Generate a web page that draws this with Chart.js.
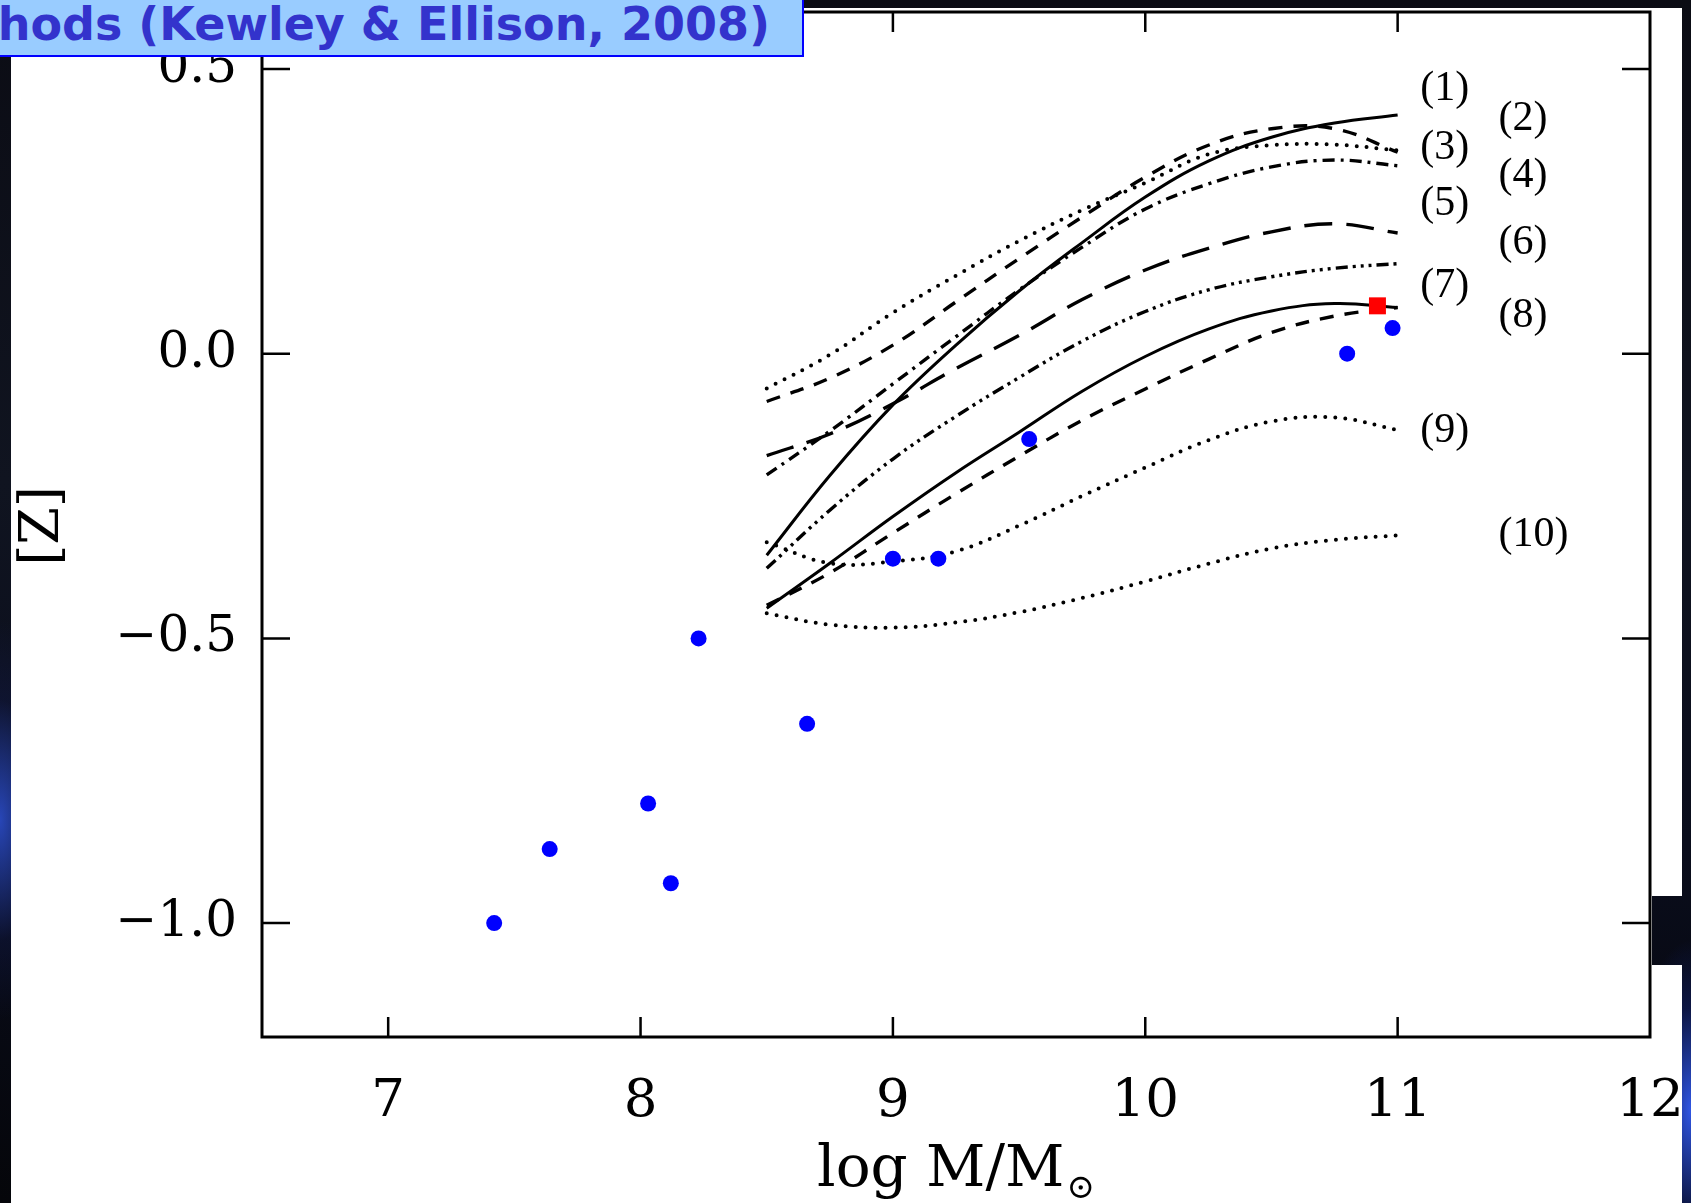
<!DOCTYPE html>
<html>
<head>
<meta charset="utf-8">
<script src="https://cdn.jsdelivr.net/npm/chart.js@4.4.1/dist/chart.umd.min.js"></script>
<style>
  html, body { margin: 0; padding: 0; }
  body {
    width: 1691px; height: 1203px; overflow: hidden; position: relative;
    background: #05060c;
  }
  .space {
    position: absolute;
    background:
      radial-gradient(ellipse 70px 200px at 0px 820px, rgba(45,80,210,0.85), rgba(20,30,90,0.3) 60%, transparent 100%),
      radial-gradient(ellipse 60px 170px at 1691px 1110px, rgba(50,90,240,0.95), rgba(20,40,140,0.4) 60%, transparent 100%),
      linear-gradient(180deg, #0b0c14 0%, #101420 40%, #0a0d1c 70%, #05060a 100%);
    background-size: 1691px 1203px;
  }
  #sheet { position: absolute; left: 11px; top: 8px; width: 1671px; height: 1195px; background: #fff; }
  #plot { position: absolute; left: 0; top: 0; }
  #edgeL { left: 0; top: 0; width: 11px; height: 1203px; background-position: 0 0; }
  #edgeR { left: 1682px; top: 0; width: 9px; height: 1203px; background-position: -1682px 0; }
  #edgeT { left: 0; top: 0; width: 1691px; height: 8px; background-position: 0 0; }
  #notch { left: 1652px; top: 896px; width: 30px; height: 69px; background-position: -1652px -896px; }
  #banner {
    position: absolute; left: 0; top: 0; width: 802px; height: 55px;
    background: #99ccff; border-right: 2px solid #0000ff; border-bottom: 2px solid #0000ff;
    overflow: hidden;
  }
  #banner span {
    position: absolute; right: 32px; top: -3px; white-space: nowrap;
    font: bold 46px "DejaVu Sans", sans-serif; color: #3333cc;
  }
</style>
</head>
<body>
<div id="sheet"></div>
<canvas id="plot" width="1691" height="1203"></canvas>
<div id="edgeL" class="space"></div>
<div id="edgeR" class="space"></div>
<div id="edgeT" class="space"></div>
<div id="notch" class="space"></div>
<div id="banner"><span>Methods (Kewley &amp; Ellison, 2008)</span></div>
<script>
(function () {
  'use strict';

  // stellar mass grid shared by the ten calibration curves
  const xGrid = [8.5, 8.75, 9.0, 9.25, 9.5, 9.75, 10.0, 10.25, 10.5, 10.75, 11.0];

  const curve1  = [-0.354, -0.214, -0.090, 0.015, 0.110, 0.195, 0.275, 0.338, 0.380, 0.405, 0.419];
  const curve2  = [-0.084, -0.043, 0.015, 0.091, 0.167, 0.240, 0.310, 0.366, 0.395, 0.395, 0.354];
  const curve3  = [-0.061, -0.002, 0.072, 0.137, 0.198, 0.252, 0.300, 0.350, 0.366, 0.367, 0.357];
  const curve4  = [-0.213, -0.136, -0.053, 0.030, 0.112, 0.187, 0.254, 0.298, 0.328, 0.340, 0.330];
  const curve5  = [-0.179, -0.141, -0.088, -0.026, 0.032, 0.095, 0.147, 0.185, 0.214, 0.228, 0.212];
  const curve6  = [-0.377, -0.275, -0.185, -0.110, -0.042, 0.022, 0.074, 0.112, 0.135, 0.150, 0.158];
  const curve7  = [-0.447, -0.368, -0.286, -0.209, -0.138, -0.066, -0.005, 0.043, 0.075, 0.088, 0.081];
  const curve8  = [-0.442, -0.385, -0.315, -0.246, -0.180, -0.117, -0.062, -0.010, 0.037, 0.066, 0.081];
  const curve9  = [-0.331, -0.368, -0.365, -0.347, -0.302, -0.250, -0.200, -0.152, -0.119, -0.112, -0.134];
  const curve10 = [-0.456, -0.476, -0.481, -0.472, -0.454, -0.429, -0.400, -0.369, -0.342, -0.327, -0.319];

  // blue points
  const obsMass = [7.42, 7.64, 8.03, 8.12, 8.23, 8.66, 9.00, 9.18, 9.54, 10.80, 10.98];
  const obsZ    = [-1.00, -0.87, -0.79, -0.93, -0.50, -0.65, -0.36, -0.36, -0.15, 0.00, 0.045];
  // red square
  const refMass = [10.92];
  const refZ    = [0.084];

  const curveLabels = ['(1)', '(2)', '(3)', '(4)', '(5)', '(6)', '(7)', '(8)', '(9)', '(10)'];
  const labelX = [11.09, 11.40, 11.09, 11.40, 11.09, 11.40, 11.09, 11.40, 11.09, 11.40];
  const labelY = [0.465, 0.412, 0.361, 0.312, 0.263, 0.195, 0.119, 0.067, -0.135, -0.319];

  const xTicks = [7, 8, 9, 10, 11, 12];
  const yTicks = [-1.0, -0.5, 0.0, 0.5];

  const SERIF = '"DejaVu Serif", serif';

  const pts = ys => xGrid.map((x, i) => ({ x: x, y: ys[i] }));
  const DOT = [0, 10];
  const lineSet = (data, dash, cap, w) => ({
    type: 'line', data: pts(data), borderColor: '#000', borderWidth: w || 3,
    borderDash: dash, borderCapStyle: cap || 'butt', pointRadius: 0,
    tension: 0.4, fill: false, order: 2,
  });

  const curves = [
    lineSet(curve1, []),
    lineSet(curve2, [14, 11], 'butt', 3.4),
    lineSet(curve3, DOT, 'round', 4),
    lineSet(curve4, [12, 6, 3, 6], 'butt', 3.4),
    lineSet(curve5, [28, 14], 'butt', 3.4),
    lineSet(curve6, [12, 5, 3, 5, 3, 5, 3, 5], 'butt', 3.4),
    lineSet(curve7, []),
    lineSet(curve8, [14, 11], 'butt', 3.4),
    lineSet(curve9, DOT, 'round', 4),
    lineSet(curve10, DOT, 'round', 4),
  ];

  // keep the plot box fixed: no extra room reserved for edge labels
  const noPad = s => { s.paddingTop = 0; s.paddingBottom = 0; s.paddingLeft = 0; s.paddingRight = 0; };

  const frame = {
    id: 'frame',
    afterDraw(chart) {
      const { ctx, chartArea: a, scales: { x, y } } = chart;
      ctx.save();
      ctx.strokeStyle = '#000';
      ctx.lineWidth = 3;
      ctx.strokeRect(a.left, a.top, a.right - a.left, a.bottom - a.top);
      ctx.lineWidth = 2.5;
      ctx.beginPath();
      yTicks.forEach(v => {
        const py = y.getPixelForValue(v);
        ctx.moveTo(a.left, py); ctx.lineTo(a.left + 28, py);
        ctx.moveTo(a.right, py); ctx.lineTo(a.right - 28, py);
      });
      xTicks.forEach(v => {
        const px = x.getPixelForValue(v);
        if (px >= a.right - 1) return;
        ctx.moveTo(px, a.bottom); ctx.lineTo(px, a.bottom - 20);
        ctx.moveTo(px, a.top); ctx.lineTo(px, a.top + 20);
      });
      ctx.stroke();

      // curve labels
      ctx.fillStyle = '#000';
      ctx.font = '42px "Liberation Serif", serif';
      ctx.textAlign = 'left';
      ctx.textBaseline = 'middle';
      curveLabels.forEach((t, i) => {
        ctx.fillText(t, x.getPixelForValue(labelX[i]), y.getPixelForValue(labelY[i]));
      });

      // x axis title with subscript sun symbol
      ctx.font = '58px ' + SERIF;
      ctx.textBaseline = 'alphabetic';
      const main = 'log M/M';
      const wMain = ctx.measureText(main).width;
      ctx.font = '34px ' + SERIF;
      const sub = '\u2299';
      const wSub = ctx.measureText(sub).width;
      const cx = (a.left + a.right) / 2;
      const x0 = cx - (wMain + wSub + 2) / 2;
      ctx.font = '58px ' + SERIF;
      ctx.fillText(main, x0, 1186);
      ctx.font = '34px ' + SERIF;
      ctx.fillText(sub, x0 + wMain + 2, 1198);

      // y axis title
      ctx.save();
      ctx.translate(44, 526);
      ctx.rotate(-Math.PI / 2);
      ctx.font = '54px ' + SERIF;
      ctx.textAlign = 'center';
      ctx.textBaseline = 'middle';
      ctx.fillText('[Z]', 0, 0);
      ctx.restore();
      ctx.restore();
    }
  };

  new Chart(document.getElementById('plot'), {
    type: 'scatter',
    data: {
      datasets: [
        {
          data: refMass.map((m, i) => ({ x: m, y: refZ[i] })),
          pointStyle: 'rect', pointRadius: 12, backgroundColor: '#ff0000', borderWidth: 0, order: 0,
        },
        {
          data: obsMass.map((m, i) => ({ x: m, y: obsZ[i] })),
          pointStyle: 'circle', pointRadius: 8, backgroundColor: '#0000ff', borderWidth: 0, order: 1,
        },
        ...curves,
      ],
    },
    options: {
      responsive: false, animation: false, devicePixelRatio: 1,
      layout: { padding: { top: 11, right: 41, left: 0, bottom: 0 } },
      plugins: { legend: { display: false }, tooltip: { enabled: false } },
      scales: {
        x: {
          type: 'linear', min: 6.5, max: 12,
          grid: { display: false }, border: { display: false },
          afterBuildTicks: s => { s.ticks = xTicks.map(v => ({ value: v })); },
          afterFit: s => { s.height = 166; noPad(s); },
          ticks: {
            color: '#000', padding: 25, maxRotation: 0, autoSkip: false,
            font: { family: SERIF, size: 53 },
            callback: v => String(v),
          },
        },
        y: {
          min: -1.2, max: 0.6,
          grid: { display: false }, border: { display: false },
          afterBuildTicks: s => { s.ticks = yTicks.map(v => ({ value: v })); },
          afterFit: s => { s.width = 262; noPad(s); },
          ticks: {
            color: '#000', padding: 17, autoSkip: false,
            font: { family: SERIF, size: 50 },
            callback: v => (v < 0 ? '\u2212' : '') + Math.abs(v).toFixed(1),
          },
        },
      },
    },
    plugins: [frame],
  });
})();
</script>
</body>
</html>
